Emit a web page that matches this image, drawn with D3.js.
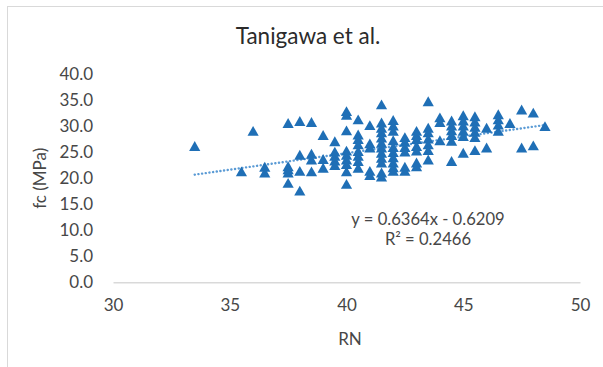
<!DOCTYPE html>
<html>
<head>
<meta charset="utf-8">
<script src="https://cdn.jsdelivr.net/npm/d3@7"></script>
<style>
  html, body { margin: 0; padding: 0; background: #fff; }
  svg { display: block; }
  text { font-family: Lato, "Open Sans", sans-serif; }
</style>
</head>
<body>
<svg id="chart" width="603" height="367"></svg>
<script>
// Rebound number (RN) groups and the compressive strengths measured at each
const rnGroups = [33.5, 35.5, 36, 36.5, 37.5, 38, 38.5, 39, 39.5, 40, 40.5, 41, 41.5,
                  42, 42.5, 43, 43.5, 44, 44.5, 45, 45.5, 46, 46.5, 47, 47.5, 48, 48.5];
const fcGroups = [
  [26.1],
  [21.2],
  [29.0],
  [22.1, 21.0],
  [30.5, 22.2, 21.6, 21.0, 19.0],
  [30.9, 24.4, 21.3, 17.5],
  [30.7, 24.6, 23.5, 21.2],
  [28.2, 23.6, 21.9],
  [27.0, 25.0, 24.2, 23.3, 22.4],
  [32.8, 32.1, 29.1, 25.2, 24.4, 23.5, 22.6, 21.2, 18.8],
  [31.2, 28.3, 27.4, 26.4, 25.1, 24.2, 23.2, 21.9],
  [30.1, 26.6, 25.8, 21.3, 20.5],
  [34.1, 30.6, 29.6, 28.7, 27.7, 26.7, 25.8, 24.8, 23.8, 22.9, 21.0, 20.2],
  [31.1, 30.0, 29.0, 27.2, 25.9, 24.9, 23.9, 22.9, 22.0, 21.3],
  [27.8, 26.9, 25.9, 25.0, 22.1, 21.3],
  [29.0, 28.2, 27.4, 26.1, 25.2, 22.9, 22.2],
  [34.7, 29.6, 28.7, 27.5, 26.4, 25.3, 23.5],
  [31.6, 30.7, 27.2],
  [31.0, 30.0, 29.1, 28.2, 27.1, 23.2],
  [32.0, 31.0, 30.0, 29.0, 28.0, 24.8],
  [31.8, 30.8, 29.8, 28.8, 27.8, 25.3],
  [29.6, 25.8],
  [32.2, 31.2, 30.2, 29.0],
  [30.5],
  [33.1, 25.8],
  [32.5, 26.2],
  [29.9]
];

// Axis ticks
const xTicks = [30, 35, 40, 45, 50];
const yTicks = [0, 5, 10, 15, 20, 25, 30, 35, 40];

// Linear trendline fitted to the data
const slope = 0.6364;
const intercept = -0.6209;
const rSquared = 0.2466;
const trendRange = [33.5, 48.5];

const chartTitle = "Tanigawa et al.";
const xTitle = "RN";
const yTitle = "fc (MPa)";

const points = [];
rnGroups.forEach((rn, i) => fcGroups[i].forEach(fc => points.push({ rn, fc })));

const svg = d3.select("#chart");
const W = 603, H = 367;

svg.append("rect").attr("width", W).attr("height", H).attr("fill", "#fff");
// chart frame
svg.append("rect")
  .attr("x", 7.5).attr("y", 6.5).attr("width", 700).attr("height", 700)
  .attr("fill", "none").attr("stroke", "#d9d9d9").attr("stroke-width", 1);

const x = d3.scaleLinear().domain([30, 50]).range([113, 580]);
const y = d3.scaleLinear().domain([0, 40]).range([282.3, 74.3]);

const tickColor = "#474747";
const labelSize = "17px";

// Y axis (labels only)
const yAxis = svg.append("g")
  .attr("transform", `translate(${x(30)},0)`)
  .call(d3.axisLeft(y).tickValues(yTicks).tickFormat(d3.format(".1f")).tickSize(0).tickPadding(20));
yAxis.select(".domain").remove();
yAxis.selectAll("text")
  .attr("fill", tickColor).style("font-size", labelSize);

// X axis: baseline at fc = 0
const xAxis = svg.append("g")
  .attr("transform", `translate(0,${y(0)})`)
  .call(d3.axisBottom(x).tickValues(xTicks).tickFormat(d3.format("d")).tickSize(0).tickPadding(17));
xAxis.select(".domain").attr("stroke", "#d9d9d9").attr("stroke-width", 1.5);
xAxis.selectAll("text")
  .attr("fill", tickColor).style("font-size", labelSize);

// Trendline
const line = d3.line().x(d => x(d)).y(d => y(slope * d + intercept));
svg.append("path")
  .datum(trendRange)
  .attr("d", line)
  .attr("fill", "none")
  .attr("stroke", "#5b9bd5")
  .attr("stroke-width", 2.4)
  .attr("stroke-dasharray", "0.1 3.6")
  .attr("stroke-linecap", "round");

// Triangle markers
const tri = "M0,-5.6L5.6,4.3L-5.6,4.3Z";
svg.append("g").selectAll("path")
  .data(points)
  .join("path")
  .attr("d", tri)
  .attr("transform", d => `translate(${x(d.rn)},${y(d.fc)})`)
  .attr("fill", "#1f6fb6");

// Titles
svg.append("text")
  .attr("x", 308).attr("y", 44)
  .attr("text-anchor", "middle")
  .attr("fill", "#2b2b2b")
  .style("font-size", "22.5px")
  .text(chartTitle);

svg.append("text")
  .attr("x", 350).attr("y", 345)
  .attr("text-anchor", "middle")
  .attr("fill", tickColor)
  .style("font-size", labelSize)
  .text(xTitle);

svg.append("text")
  .attr("transform", `translate(46,${(y(0) + y(40)) / 2}) rotate(-90)`)
  .attr("text-anchor", "middle")
  .attr("fill", tickColor)
  .style("font-size", labelSize)
  .text(yTitle);

// Trendline equation (two lines in one label)
const eq = svg.append("text")
  .attr("text-anchor", "middle")
  .attr("fill", tickColor)
  .style("font-size", "16.6px");
eq.append("tspan")
  .attr("x", 428).attr("y", 224.5)
  .text(`y = ${slope}x - ${Math.abs(intercept)}`);
eq.append("tspan")
  .attr("x", 428).attr("y", 245)
  .text(`R² = ${rSquared}`);
</script>
</body>
</html>
